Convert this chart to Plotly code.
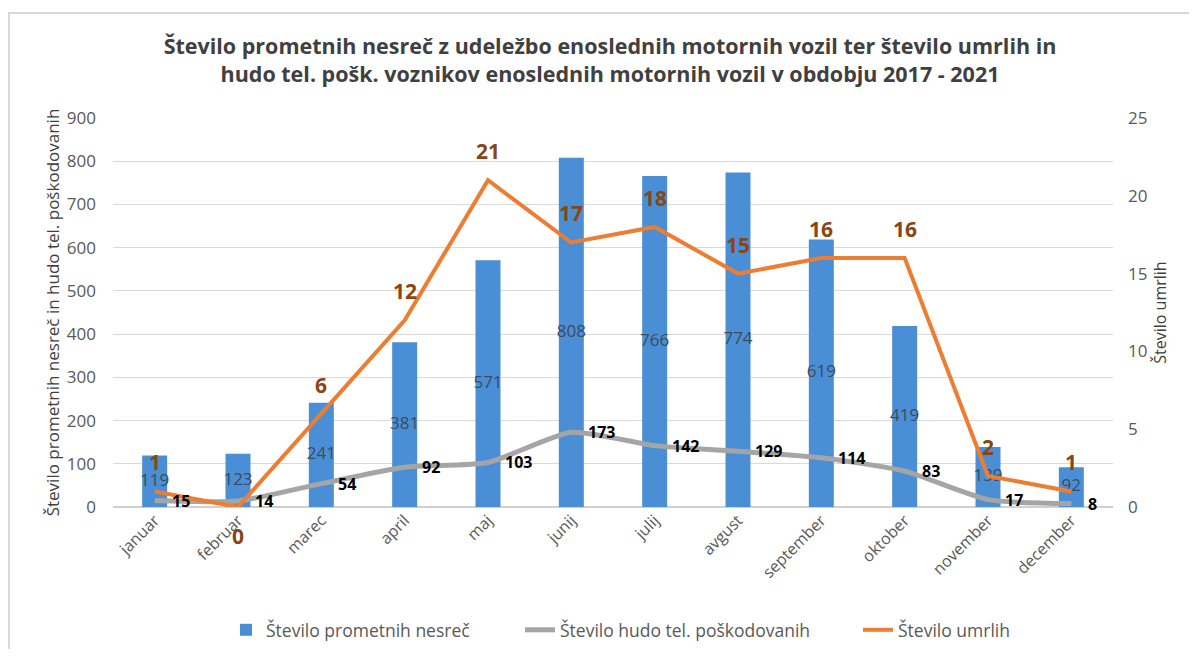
import plotly.graph_objects as go

months = ["januar", "februar", "marec", "april", "maj", "junij", "julij",
          "avgust", "september", "oktober", "november", "december"]
nesrece = [119, 123, 241, 381, 571, 808, 766, 774, 619, 419, 139, 92]
poskodovani = [15, 14, 54, 92, 103, 173, 142, 129, 114, 83, 17, 8]
umrli = [1, 0, 6, 12, 21, 17, 18, 15, 16, 16, 2, 1]

FONT = "Open Sans"
TICK = "#595959"

fig = go.Figure()
fig.add_trace(go.Bar(
    x=months, y=nesrece, name="Število prometnih nesreč",
    marker=dict(color="#4A8FD5", line=dict(width=0)), width=0.3,
    legend="legend",
))
# bar value labels centred in bars
fig.add_trace(go.Scatter(
    x=months, y=[v / 2 for v in nesrece], mode="text",
    text=[str(v) for v in nesrece], textposition="middle center",
    textfont=dict(size=17, color="#3E4B58", family=FONT),
    showlegend=False, hoverinfo="skip",
))
fig.add_trace(go.Scatter(
    x=months, y=poskodovani, name="Število hudo tel. poškodovanih",
    mode="lines", line=dict(color="#A5A5A5", width=5, shape="spline", smoothing=0.6),
    legend="legend2",
))
fig.add_trace(go.Scatter(
    x=months, y=umrli, name="Število umrlih", yaxis="y2",
    mode="lines", line=dict(color="#ED7D31", width=4),
    legend="legend3",
))

for m, v in zip(months, poskodovani):
    fig.add_annotation(
        x=m, y=v, yref="y", text=str(v), showarrow=False,
        xanchor="left", xshift=15,
        font=dict(size=16, color="#000000", family=FONT, weight="bold"),
    )

for m, v in zip(months, umrli):
    fig.add_annotation(
        x=m, y=v, yref="y2", text=str(v), showarrow=False,
        yshift=(-29 if v == 0 else 29),
        font=dict(size=21, color="#8B4513", family=FONT, weight="bold"),
    )

# chart frame
fig.add_shape(type="rect", xref="paper", yref="paper",
              x0=-0.104, x1=1.2, y0=-0.5, y1=1.27,
              line=dict(color="#D9D9D9", width=2), layer="below")

leg = dict(orientation="h", yanchor="middle", y=-0.316, xanchor="left",
           font=dict(size=17.5, color=TICK), bgcolor="rgba(0,0,0,0)")

fig.update_layout(
    width=1181, height=641,
    margin=dict(l=105, r=76, t=110, b=142, autoexpand=False),
    paper_bgcolor="white", plot_bgcolor="white",
    font=dict(family=FONT, color=TICK),
    title=dict(
        text="Število prometnih nesreč z udeležbo enoslednih motornih vozil ter število umrlih in<br>hudo tel. pošk. voznikov enoslednih motornih vozil v obdobju 2017 - 2021",
        x=0.497, xanchor="center", xref="paper", y=0.928, yanchor="middle",
        font=dict(size=21.5, color="#404040", family=FONT, weight="bold"),
    ),
    xaxis=dict(range=[-0.5, len(months) - 0.5], autorange=False,
               tickangle=-45, tickfont=dict(size=16, color=TICK),
               showline=False, showgrid=False, ticks="", automargin=False),
    yaxis=dict(range=[0, 900], dtick=100, showgrid=True, gridcolor="#D9D9D9",
               zeroline=True, zerolinecolor="#D0D0D0", zerolinewidth=1.5,
               tickfont=dict(size=17, color=TICK), ticklabelstandoff=16,
               automargin=False,
               title=dict(text="Število prometnih nesreč in hudo tel. poškodovanih",
                          font=dict(size=17, color="#404040"), standoff=2)),
    yaxis2=dict(range=[0, 25], dtick=5, overlaying="y", side="right",
                showgrid=False, zeroline=False, automargin=False,
                tickfont=dict(size=17, color=TICK), ticklabelstandoff=14,
                title=dict(text="Število umrlih", font=dict(size=16, color="#404040"),
                           standoff=8)),
    legend=dict(leg, x=0.113),
    legend2=dict(leg, x=0.407),
    legend3=dict(leg, x=0.745),
)

fig.write_html("out.html")
